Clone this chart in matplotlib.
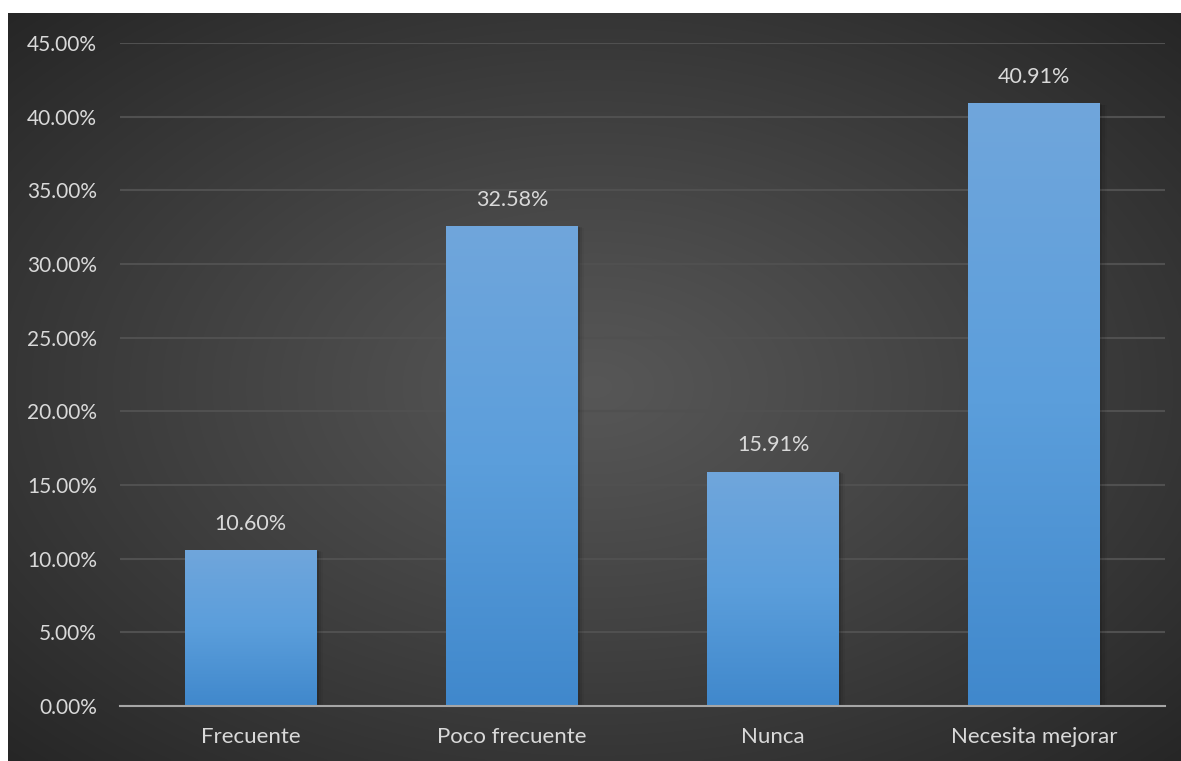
import matplotlib.pyplot as plt
import numpy as np
from matplotlib.ticker import FuncFormatter

categorias = ["Frecuente", "Poco frecuente", "Nunca", "Necesita mejorar"]
porcentajes = [10.60, 32.58, 15.91, 40.91]
ticks_y = [0, 5, 10, 15, 20, 25, 30, 35, 40, 45]

plt.rcParams['font.family'] = ['Lato', 'DejaVu Sans']
texto = '#d9d9d9'

fig = plt.figure(figsize=(11.81, 7.61), dpi=100)
fig.patch.set_facecolor('white')

# fondo oscuro con degradado radial
W, H = 1181, 761
bg = fig.add_axes([8 / W, 0, 1 - 8 / W, 1 - 13 / H])
bg.set_axis_off()
yy, xx = np.mgrid[0:1:300j, 0:1:460j]
r = np.sqrt(((xx - 0.5) / 0.5) ** 2 + ((yy - 0.5) / 0.5) ** 2) / np.sqrt(2)
lum = 0.34 - 0.19 * np.clip(r, 0, 1) ** 1.1
img = np.dstack([lum, lum, lum])
bg.imshow(img, aspect='auto', extent=[0, 1, 0, 1], interpolation='bilinear')
bg.set_xlim(0, 1)
bg.set_ylim(0, 1)

ax = fig.add_axes([120 / W, 1 - 706 / H, 1045 / W, (706 - 43) / H])
ax.patch.set_alpha(0)

x = np.arange(len(categorias))
barras = ax.bar(x, porcentajes, width=0.505, color='#5b9bd5', zorder=3)

# degradado vertical dentro de cada barra + sombra suave
grad = np.linspace(0, 1, 256).reshape(-1, 1)
top = np.array([0x70, 0xa6, 0xdc]) / 255
bot = np.array([0x40, 0x88, 0xcc]) / 255
mid = np.array([0x5b, 0x9e, 0xdb]) / 255
cols = np.where(grad[..., None] < 0.5,
                top + (mid - top) * (grad[..., None] / 0.5),
                mid + (bot - mid) * ((grad[..., None] - 0.5) / 0.5))
for b in barras:
    x0, w, h = b.get_x(), b.get_width(), b.get_height()
    for k, a in enumerate([0.10, 0.07, 0.04]):
        d = 0.004 * (k + 1)
        ax.bar(x0 + w / 2 + d, h + 0.05 * (k + 1), width=w + 2 * d,
               bottom=-0.1 * (k + 1), color='black', alpha=a, zorder=2,
               linewidth=0)
    im = ax.imshow(cols, extent=[x0, x0 + w, 0, h], aspect='auto', zorder=4,
                   origin='upper', interpolation='bilinear')
    im.set_clip_path(b)
    ax.text(x0 + w / 2, h + 1.1, f"{h:.2f}%", ha='center', va='bottom',
            color=texto, fontsize=15.5, zorder=5)

ax.set_xlim(-0.5, len(categorias) - 0.5)
ax.set_ylim(0, 45)
ax.set_yticks(ticks_y)
ax.yaxis.set_major_formatter(FuncFormatter(lambda v, p: f"{v:.2f}%"))
ax.set_xticks(x)
ax.set_xticklabels(categorias)
ax.tick_params(axis='both', length=0, colors=texto)
ax.tick_params(axis='y', pad=16.5, labelsize=15)
ax.tick_params(axis='x', pad=15, labelsize=16)
ax.grid(axis='y', color='#505050', linewidth=1.5, zorder=0)
for s in ['top', 'right', 'left']:
    ax.spines[s].set_visible(False)
ax.spines['bottom'].set_color('#a6a6a6')
ax.spines['bottom'].set_linewidth(1.5)
ax.spines['bottom'].set_zorder(6)

fig.savefig('out.png', dpi=100)
